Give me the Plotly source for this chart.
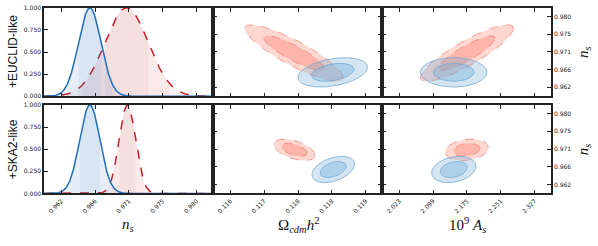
import numpy as np
import plotly.graph_objects as go

# ---------------- data ----------------
rows = ["+EUCLID-like", "+SKA2-like"]

# red dashed model
ns_mean_red = [0.9707, 0.9708]
ns_sigma_red = [0.0029, 0.0011]
om_mean_red = [0.11741, 0.11742]
om_sigma_red = [4.4e-4, 1.85e-4]
as_mean_red = [2.175, 2.1744]
as_sigma_red = [0.042, 0.0196]
rho_om_ns_red = [-0.87, -0.5]
rho_as_ns_red = [0.87, 0.2]

# blue solid model
ns_mean_blue = [0.9658, 0.9658]
ns_sigma_blue = [0.0015, 0.00135]
om_mean_blue = [0.11827, 0.11828]
om_sigma_blue = [3.1e-4, 1.9e-4]
as_mean_blue = [2.1452, 2.1454]
as_sigma_blue = [0.030, 0.020]
rho_om_ns_blue = [0.35, 0.4]
rho_as_ns_blue = [0.0, 0.25]

ns_ticks = [0.962, 0.9665, 0.971, 0.9755, 0.980]
ns_ticktext = ["0.962", "0.966", "0.971", "0.975", "0.980"]
om_ticks = [0.116, 0.11675, 0.1175, 0.11825, 0.119]
om_ticktext = ["0.116", "0.117", "0.118", "0.118", "0.119"]
as_ticks = [2.023, 2.099, 2.175, 2.251, 2.327]
as_ticktext = ["2.023", "2.099", "2.175", "2.251", "2.327"]
p_ticks = [0.0, 0.25, 0.5, 0.75, 1.0]
p_ticktext = ["0.000", "0.250", "0.500", "0.750", "1.000"]

# ---------------- styles ----------------
ns_range = [0.9597, 0.9822]
om_range = [0.115616, 0.119362]
as_range = [1.9842, 2.3636]

RED = "rgb(200,30,40)"
BLUE = "rgb(30,110,190)"
R2_68 = 2.30  # delta chi2 for 68% 2D
R2_95 = 6.18  # delta chi2 for 95% 2D

W, H = 598, 246
xdom = [(44 / W, 213 / W), (213 / W, 382 / W), (382 / W, 551 / W)]
ydom = [(1 - 95 / H, 1 - 4 / H), (1 - 195 / H, 1 - 104 / H)]

fig = go.Figure()


def ellipse(mx, my, sx, sy, rho, d2):
    t = np.linspace(0, 2 * np.pi, 200)
    r = np.sqrt(d2)
    u = r * np.cos(t)
    v = r * np.sin(t)
    x = mx + sx * u
    y = my + sy * (rho * u + np.sqrt(1 - rho ** 2) * v)
    return x, y


def add_1d(ax, m, s, color, fillc, dash):
    xs = np.linspace(ns_range[0], ns_range[1], 600)
    ys = np.exp(-0.5 * ((xs - m) / s) ** 2)
    for k in [np.inf, 2, 1]:
        mask = np.abs(xs - m) <= k * s
        fig.add_trace(go.Scatter(x=xs[mask], y=ys[mask], mode="lines", fill="tozeroy",
                                 fillcolor=fillc, line=dict(width=0), hoverinfo="skip",
                                 xaxis="x" + ax, yaxis="y" + ax, showlegend=False))
    fig.add_trace(go.Scatter(x=xs, y=ys, mode="lines",
                             line=dict(color=color, width=1.5, dash=dash),
                             xaxis="x" + ax, yaxis="y" + ax, showlegend=False))


def add_2d(ax, mx, my, sx, sy, rho, fill95, fill68, linec, dash):
    for d2, fc in [(R2_95, fill95), (R2_68, fill68)]:
        x, y = ellipse(mx, my, sx, sy, rho, d2)
        fig.add_trace(go.Scatter(x=x, y=y, mode="lines", fill="toself", fillcolor=fc,
                                 line=dict(color=linec, width=1, dash=dash),
                                 xaxis="x" + ax, yaxis="y" + ax, showlegend=False,
                                 hoverinfo="skip"))


RF95, RF68, RL = "rgba(250,140,120,0.35)", "rgba(250,140,120,0.45)", "rgba(240,130,120,0.75)"
BF95, BF68, BL = "rgba(110,170,215,0.30)", "rgba(110,170,215,0.35)", "rgba(120,170,210,0.8)"

for r in range(2):
    a1, a2, a3 = str(3 * r + 1), str(3 * r + 2), str(3 * r + 3)
    add_1d(a1, ns_mean_red[r], ns_sigma_red[r], RED, "rgba(200,30,40,0.05)", "dash")
    add_1d(a1, ns_mean_blue[r], ns_sigma_blue[r], BLUE, "rgba(31,108,184,0.06)", "solid")
    add_2d(a2, om_mean_red[r], ns_mean_red[r], om_sigma_red[r], ns_sigma_red[r],
           rho_om_ns_red[r], RF95, RF68, RL, "dash")
    add_2d(a2, om_mean_blue[r], ns_mean_blue[r], om_sigma_blue[r], ns_sigma_blue[r],
           rho_om_ns_blue[r], BF95, BF68, BL, "solid")
    add_2d(a3, as_mean_red[r], ns_mean_red[r], as_sigma_red[r], ns_sigma_red[r],
           rho_as_ns_red[r], RF95, RF68, RL, "dash")
    add_2d(a3, as_mean_blue[r], ns_mean_blue[r], as_sigma_blue[r], ns_sigma_blue[r],
           rho_as_ns_blue[r], BF95, BF68, BL, "solid")

tickfont = dict(family="DejaVu Sans", size=6, color="#222")
common = dict(showgrid=False, zeroline=False, showline=True, linecolor="#222",
              linewidth=1.5, ticks="inside", ticklen=4, tickcolor="#222",
              tickwidth=1, tickfont=tickfont)

layout = dict(width=W, height=H, margin=dict(l=0, r=0, t=0, b=0),
              plot_bgcolor="white", paper_bgcolor="white", showlegend=False)

for r in range(2):
    for c in range(3):
        n = str(3 * r + c + 1)
        xr = [ns_range, om_range, as_range][c]
        xt = [ns_ticks, om_ticks, as_ticks][c]
        xtt = [ns_ticktext, om_ticktext, as_ticktext][c]
        xa = dict(common, domain=list(xdom[c]), range=xr, tickvals=xt, ticktext=xtt,
                  anchor="y" + n, mirror="allticks", showticklabels=(r == 1),
                  tickangle=-45)
        if c == 0:
            ya = dict(common, domain=list(ydom[r]), range=[0, 1.0], tickvals=p_ticks,
                      ticktext=p_ticktext, anchor="x" + n, mirror=True)
        elif c == 1:
            ya = dict(common, domain=list(ydom[r]), range=ns_range, tickvals=ns_ticks,
                      ticktext=ns_ticktext, anchor="x" + n, mirror="allticks",
                      showticklabels=False)
        else:
            ya = dict(common, domain=list(ydom[r]), range=ns_range, tickvals=ns_ticks,
                      ticktext=ns_ticktext, anchor="x" + n, mirror="allticks",
                      side="right")
        layout["xaxis" + ("" if n == "1" else n)] = xa
        layout["yaxis" + ("" if n == "1" else n)] = ya

fig.update_layout(**layout)

serif = dict(family="Liberation Serif", size=15, color="#111")
ann = []
for r in range(2):
    ymid = (ydom[r][0] + ydom[r][1]) / 2
    ann.append(dict(text=rows[r], x=13 / W, y=ymid, xref="paper", yref="paper",
                    xanchor="center", yanchor="middle",
                    showarrow=False, textangle=-90,
                    font=dict(family="Liberation Sans", size=12, color="#111")))
    ann.append(dict(text="<i>n</i><sub><i>s</i></sub>", x=584 / W, y=ymid, xref="paper",
                    yref="paper", xanchor="center", yanchor="middle",
                    showarrow=False, textangle=-90, font=serif))
ytit = 1 - 227 / H
for txt, xc in [("<i>n</i><sub><i>s</i></sub>", 128),
                ("Ω<sub><i>cdm</i></sub><i>h</i><sup>2</sup>", 298),
                ("10<sup>9</sup> <i>A</i><sub><i>s</i></sub>", 467)]:
    ann.append(dict(text=txt, x=xc / W, y=ytit, xref="paper", yref="paper",
                    xanchor="center", yanchor="middle", showarrow=False, font=serif))
fig.update_layout(annotations=ann)

fig.write_html("out.html", config={"displayModeBar": False},
               post_script="document.body.style.margin='0';document.body.style.overflow='hidden';")
